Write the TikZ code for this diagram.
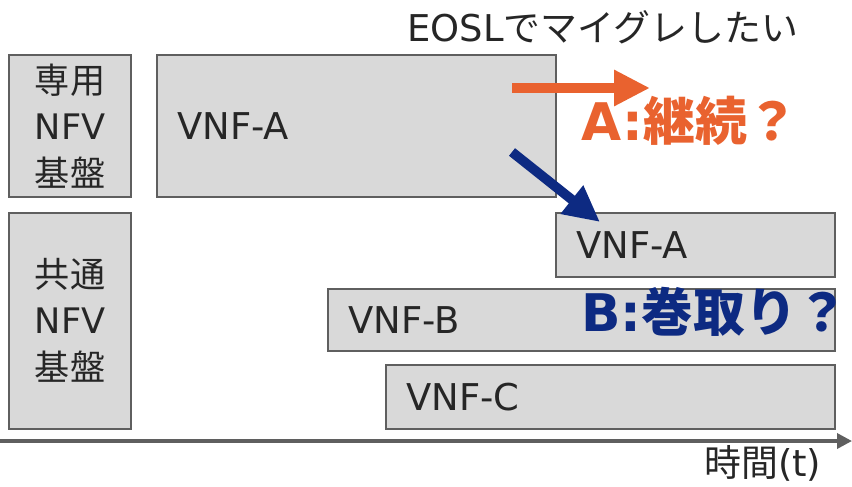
\documentclass[tikz,border=0pt]{standalone}
\usepackage{fontspec}
\setmainfont{DejaVu Sans}
\newfontfamily\jp{Noto Sans CJK JP}
\usetikzlibrary{arrows.meta}
\definecolor{boxgray}{HTML}{D9D9D9}
\definecolor{edgegray}{HTML}{5F5F5F}
\definecolor{txtgray}{HTML}{262626}
\definecolor{keeporange}{HTML}{E9622F}
\definecolor{movenavy}{HTML}{0D2A82}
\tikzset{
  infra/.style={draw=edgegray,fill=boxgray,thick},
  vnflab/.style={anchor=west,text=txtgray,font=\fontsize{21}{25}\selectfont},
  stacklab/.style={align=center,text=txtgray,font=\fontsize{20}{26.5}\selectfont},
  bigarrow/.style={line width=5.5pt,-{Triangle[length=0.72cm,width=0.68cm]}},
}
\begin{document}
\begin{tikzpicture}
\useasboundingbox (0,0) rectangle (17.04,9.72);
% platforms on the left
\draw[infra] (0.18,5.78) rectangle (2.62,8.62);
\node[stacklab] (ded) at (1.4,7.2) {{\jp 専用}\\NFV\\{\jp 基盤}};
\draw[infra] (0.18,1.14) rectangle (2.62,5.46);
\node[stacklab] (shr) at (1.4,3.32) {{\jp 共通}\\NFV\\{\jp 基盤}};
% vnf bars
\foreach \nm/\xa/\ya/\xb/\yb/\lab in {oldA/3.14/5.78/11.12/8.62/VNF-A,
  newA/11.12/4.18/16.7/5.46/VNF-A,
  vnfB/6.56/2.70/16.7/3.94/VNF-B,
  vnfC/7.72/1.14/16.7/2.42/VNF-C} {
\draw[infra] (\xa,\ya) rectangle (\xb,\yb);
\node[vnflab] (\nm) at (\xa+0.28,{(\ya+\yb)/2}) {\lab};
}
% time axis
\coordinate (t0) at (0,0.9);
\coordinate (t1) at (17.04,0.9);
\draw[edgegray,line width=2pt,-{Triangle[length=0.3cm,width=0.3cm]}] (t0) -- (t1);
\node[anchor=east,text=txtgray,font=\fontsize{21}{25}\selectfont] (tlab) at (16.55,0.46) {{\jp 時間}(t)};
\node[text=txtgray,font=\fontsize{21}{25}\selectfont] (eosl) at (12.06,9.18) {EOSL{\jp でマイグレしたい}};
% options
\coordinate (a0) at (10.24,7.96);
\coordinate (a1) at (13.0,7.96);
\draw[bigarrow,keeporange] (a0) -- (a1);
\node[text=keeporange,font=\fontsize{29.5}{33}\bfseries] (optA) at (13.8,7.3) {A:{\jp\bfseries 継続？}};
\coordinate (b0) at (10.24,6.68);
\coordinate (b1) at (12.0,5.28);
\draw[bigarrow,movenavy] (b0) -- (b1);
\node[text=movenavy,font=\fontsize{29.5}{33}\bfseries] (optB) at (14.3,3.48) {B:{\jp\bfseries 巻取り？}};
\end{tikzpicture}
\end{document}
